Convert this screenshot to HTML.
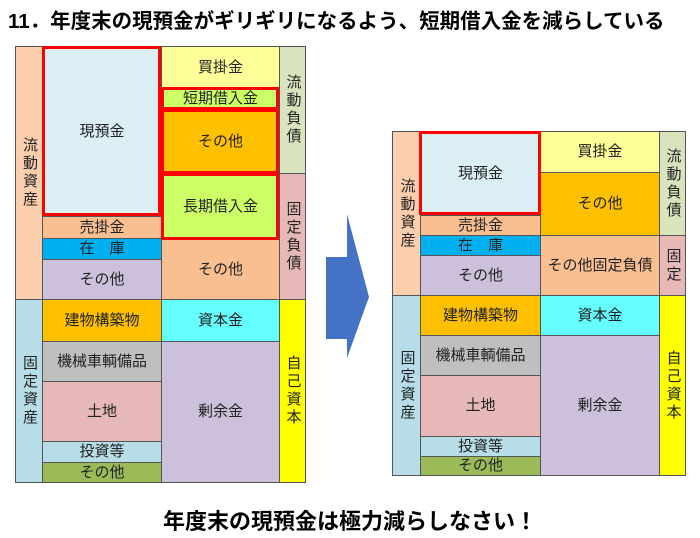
<!DOCTYPE html><html><head><meta charset="utf-8"><style>
body{margin:0;width:700px;height:538px;background:#fff;position:relative;overflow:hidden;font-family:"Liberation Sans","Noto Sans CJK JP",sans-serif;}
.b{position:absolute;box-sizing:border-box;border:1px solid #555;display:flex;align-items:center;justify-content:center;font-size:15px;color:#222;text-align:center;line-height:1.2}
.v{writing-mode:vertical-rl;letter-spacing:3px}
.r{position:absolute;box-sizing:border-box;border:3px solid #f00}
.t{position:absolute;font-weight:bold;white-space:nowrap}
</style></head><body>
<div class="t" style="left:8px;top:4px;font-size:20.5px">11．年度末の現預金がギリギリになるよう、短期借入金を減らしている</div>
<div class="t" style="left:0;width:700px;text-align:center;top:504px;font-size:22px">年度末の現預金は極力減らしなさい！</div>

<!-- left diagram -->
<div class="b v" style="left:15px;top:46px;width:28px;height:254px;background:#fbcfae">流動資産</div>
<div class="b v" style="left:15px;top:299px;width:28px;height:184px;background:#b7dde8">固定資産</div>
<div class="b" style="left:42px;top:46px;width:120px;height:171px;background:#dbeef4">現預金</div>
<div class="b" style="left:42px;top:216px;width:120px;height:23px;background:#f9bf90">売掛金</div>
<div class="b" style="left:42px;top:238px;width:120px;height:22px;background:#00b0f0">在　庫</div>
<div class="b" style="left:42px;top:259px;width:120px;height:41px;background:#ccc0da">その他</div>
<div class="b" style="left:42px;top:299px;width:120px;height:43px;background:#ffc000">建物構築物</div>
<div class="b" style="left:42px;top:341px;width:120px;height:41px;background:#bfbfbf">機械車輌備品</div>
<div class="b" style="left:42px;top:381px;width:120px;height:61px;background:#e6b8b7">土地</div>
<div class="b" style="left:42px;top:441px;width:120px;height:22px;background:#b7dee8">投資等</div>
<div class="b" style="left:42px;top:462px;width:120px;height:21px;background:#9bbb59">その他</div>
<div class="b" style="left:161px;top:46px;width:119px;height:43px;background:#ffff99">買掛金</div>
<div class="b" style="left:161px;top:88px;width:119px;height:22px;background:#ccff66">短期借入金</div>
<div class="b" style="left:161px;top:109px;width:119px;height:65px;background:#ffc000">その他</div>
<div class="b" style="left:161px;top:173px;width:119px;height:67px;background:#ccff66">長期借入金</div>
<div class="b" style="left:161px;top:239px;width:119px;height:61px;background:#f9bf90">その他</div>
<div class="b" style="left:161px;top:299px;width:119px;height:43px;background:#66ffff">資本金</div>
<div class="b" style="left:161px;top:341px;width:119px;height:142px;background:#ccc0da">剰余金</div>
<div class="b v" style="left:279px;top:46px;width:27px;height:128px;background:#d7e4bd">流動負債</div>
<div class="b v" style="left:279px;top:173px;width:27px;height:127px;background:#e6b8b7">固定負債</div>
<div class="b v" style="left:279px;top:299px;width:27px;height:184px;background:#ffff00">自己資本</div>
<div class="r" style="left:42px;top:46px;width:119px;height:170px"></div>
<div class="r" style="left:161px;top:87px;width:118px;height:23px"></div>
<div class="r" style="left:161px;top:109px;width:118px;height:65px"></div>
<div class="r" style="left:161px;top:173px;width:118px;height:67px"></div>

<svg style="position:absolute;left:0;top:0" width="700" height="538"><polygon points="326,257 347,257 347,214 369,297 347,358 347,339 326,339" fill="#4472c4"/></svg>

<!-- right diagram -->
<div class="b v" style="left:392px;top:131px;width:29px;height:165px;background:#fbcfae">流動資産</div>
<div class="b v" style="left:392px;top:295px;width:29px;height:181px;background:#b7dde8">固定資産</div>
<div class="b" style="left:420px;top:131px;width:121px;height:85px;background:#dbeef4">現預金</div>
<div class="b" style="left:420px;top:215px;width:121px;height:21px;background:#f9bf90">売掛金</div>
<div class="b" style="left:420px;top:235px;width:121px;height:21px;background:#00b0f0">在　庫</div>
<div class="b" style="left:420px;top:255px;width:121px;height:41px;background:#ccc0da">その他</div>
<div class="b" style="left:420px;top:295px;width:121px;height:41px;background:#ffc000">建物構築物</div>
<div class="b" style="left:420px;top:335px;width:121px;height:41px;background:#bfbfbf">機械車輌備品</div>
<div class="b" style="left:420px;top:375px;width:121px;height:62px;background:#e6b8b7">土地</div>
<div class="b" style="left:420px;top:436px;width:121px;height:21px;background:#b7dee8">投資等</div>
<div class="b" style="left:420px;top:456px;width:121px;height:20px;background:#9bbb59">その他</div>
<div class="b" style="left:540px;top:131px;width:120px;height:42px;background:#ffff99">買掛金</div>
<div class="b" style="left:540px;top:172px;width:120px;height:64px;background:#ffc000">その他</div>
<div class="b" style="left:540px;top:235px;width:120px;height:61px;background:#f9bf90">その他固定負債</div>
<div class="b" style="left:540px;top:295px;width:120px;height:41px;background:#66ffff">資本金</div>
<div class="b" style="left:540px;top:335px;width:120px;height:141px;background:#ccc0da">剰余金</div>
<div class="b v" style="left:659px;top:131px;width:27px;height:105px;background:#d7e4bd">流動負債</div>
<div class="b v" style="left:659px;top:235px;width:27px;height:61px;background:#e6b8b7">固定</div>
<div class="b v" style="left:659px;top:295px;width:27px;height:181px;background:#ffff00">自己資本</div>
<div class="r" style="left:419px;top:131px;width:122px;height:84px"></div>
</body></html>
